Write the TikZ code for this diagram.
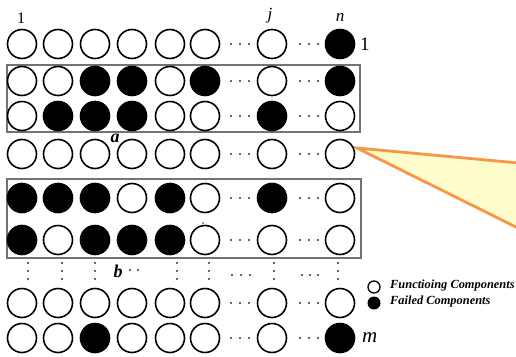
\documentclass[tikz,border=0pt]{standalone}
\usepackage{fontspec}
\setmainfont{Liberation Serif}
\definecolor{calloutedge}{RGB}{247,150,70}
\definecolor{calloutfill}{RGB}{255,252,204}
\begin{document}
\begin{tikzpicture}[x=1pt,y=-1pt,
  comp/.style={circle,draw=black,line width=1.6pt,minimum size=29pt,inner sep=0pt},
  okcomp/.style={comp,fill=white},
  badcomp/.style={comp,fill=black},
  tinydot/.style={circle,fill=black!80,inner sep=0pt,minimum size=2.2pt},
  groupbox/.style={draw=black!55,line width=1.1pt},
  idx/.style={font=\fontsize{17}{17}\selectfont\itshape,inner sep=0pt},
  tag/.style={font=\fontsize{18}{18}\selectfont\bfseries\itshape,inner sep=0pt},
  legtext/.style={font=\fontsize{12.4}{12.4}\selectfont\bfseries\itshape,anchor=west,inner sep=0pt},
  callout/.style={draw=calloutedge,line width=2.8pt,fill=calloutfill,line join=miter}]
\useasboundingbox (0,0) rectangle (516,356);
\fill[white] (0,0) rectangle (516,356);

% callout pointing at the highlighted vector
\coordinate (tip) at (357,148);
\coordinate (cu) at (540,165);
\coordinate (cl) at (540,239);
\filldraw[callout] (cu) -- (tip) -- (cl);

% group frames
\draw[groupbox] (7,65) rectangle (360,132);
\draw[groupbox] (7,179) rectangle (361,258);

% component states, one row per vector (1 = failed)
\foreach \r/\yy/\pat in {1/44/{0,0,0,0,0,0,0,1},
                         2/81/{0,0,1,1,0,1,0,1},
                         3/116/{0,1,1,1,0,0,1,0},
                         4/154/{0,0,0,0,0,0,0,0},
                         5/198/{1,1,1,0,1,0,1,0},
                         6/240/{1,0,1,1,1,0,0,0},
                         8/303/{0,0,0,0,0,0,0,0},
                         9/338/{0,0,1,0,0,0,0,1}}{
  \foreach \c/\xx [count=\k] in {1/22,2/58,3/95,4/132,5/170,6/205,j/272,n/340}{
    \pgfmathsetmacro{\st}{{\pat}[\k-1]}
    \ifdim\st pt>0.5pt
      \node[badcomp] (c\r-\c) at (\xx,\yy) {};
    \else
      \node[okcomp] (c\r-\c) at (\xx,\yy) {};
    \fi
  }
  \foreach \xx in {231,240,249,300,309,318}
    \node[tinydot] at (\xx,\yy) {};
}

% continuation dots between the framed groups and the last rows
\foreach \xx in {28,62,95,177,209,274,338}
  \foreach \yy in {263,271,279}
    \node[tinydot] at (\xx,\yy) {};
\foreach \xx in {232,241,250,302,310,318}
  \node[tinydot] at (\xx,275) {};
\node[tinydot] at (130,270) {};
\node[tinydot] at (138,270) {};
\node[tinydot,minimum size=1.6pt] at (203,223) {};

% indices
\node[inner sep=0pt,font=\fontsize{16}{16}\selectfont] (i1) at (21,18) {1};
\node[idx] (ij) at (270,16) {j};
\node[idx] (in) at (340,17) {n};
\node[inner sep=0pt,font=\fontsize{19}{19}\selectfont,anchor=west] (r1) at (360,44) {1};
\node[inner sep=0pt,font=\fontsize{21}{21}\selectfont\itshape,anchor=west] (rm) at (362,338) {m};
\node[tag] (la) at (115,138) {a};
\node[tag] (lb) at (118,271) {b};

% legend
\node[circle,draw=black,line width=1.3pt,minimum size=12pt,inner sep=0pt] (lok) at (374,287) {};
\node[circle,fill=black,minimum size=13pt,inner sep=0pt] (lbad) at (374,303) {};
\node[legtext] (tok) at (390,286) {Functioing Components};
\node[legtext] (tbad) at (390,302) {Failed Components};
\end{tikzpicture}
\end{document}
